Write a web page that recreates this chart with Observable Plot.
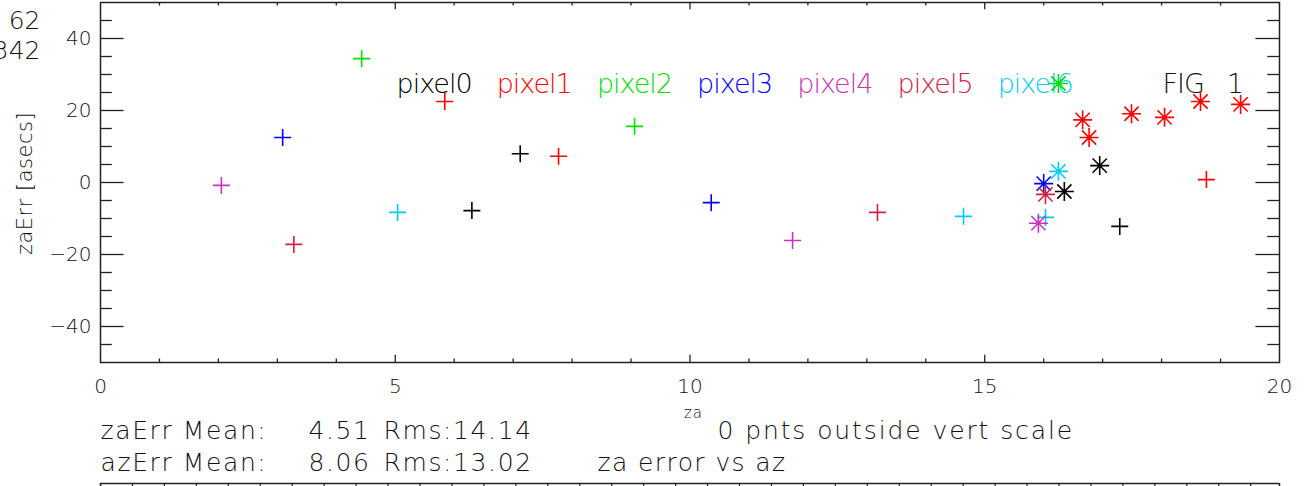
<!DOCTYPE html>
<html><head><meta charset="utf-8">
<script src="https://cdn.jsdelivr.net/npm/d3@7"></script>
<script src="https://cdn.jsdelivr.net/npm/@observablehq/plot@0.6"></script>
<style>
html,body{margin:0;padding:0;background:#fff;}
#chart svg{display:block;}
#chart svg text{white-space:pre;}
</style></head><body><div id="chart"></div>
<script>
// ---------------- data ----------------
const pixelNames  = ["pixel0","pixel1","pixel2","pixel3","pixel4","pixel5","pixel6"];
const pixelColors = ["#000000","#ff0000","#00dd00","#0000ff","#cc33bb","#cc2244","#00ccee"];

// "+" symbols: za, zaErr, pixel index
const plusZa  = [2.05, 3.09, 3.28, 4.43, 5.84, 5.04, 6.30, 7.12, 7.77, 9.06, 10.36, 11.74, 13.18, 14.64, 16.03, 17.29, 18.76];
const plusErr = [-0.8, 12.5, -17.2, 34.4, 22.5, -8.3, -7.8, 8.0, 7.3, 15.6, -5.6, -16.1, -8.3, -9.4, -9.7, -12.2, 0.8];
const plusPix = [4, 3, 5, 2, 1, 6, 0, 0, 1, 2, 3, 4, 5, 6, 6, 0, 1];

// "*" symbols
const starZa  = [16.25, 16.66, 16.77, 17.49, 18.05, 18.66, 19.34, 16.95, 16.25, 16.00, 16.03, 16.35, 15.91];
const starErr = [27.5, 17.4, 12.5, 19.1, 18.1, 22.5, 21.7, 4.7, 3.1, -0.3, -3.3, -2.5, -11.3];
const starPix = [2, 1, 1, 1, 1, 1, 1, 0, 6, 3, 5, 0, 4];

const xTickLabels = [0, 5, 10, 15, 20];
const yTickLabels = [-40, -20, 0, 20, 40];
const statsLabels = ["zaErr Mean:", "azErr Mean:"];
const statsMeans  = ["4.51", "8.06"];
const statsRms    = ["Rms:14.14", "Rms:13.02"];
const cornerLabels = ["62", "342"];
const figLabel = "FIG   1";
const xLabel = "za";
const yLabel = "zaErr [asecs]";
const outsideNote = "0 pnts outside vert scale";
const subTitle = "za error vs az";
const azTicks = d3.range(0, 361, 10);

// ---------------- layout ----------------
const W = 1307, H = 486, ML = 100, MR = 28, MT = 2, MB = 124;
const xAt = px => (px - ML) / (W - ML - MR) * 20;
const yAt = py => 50 - (py - MT) / (H - MT - MB) * 100;
const pxX = 20 / (W - ML - MR), pxY = 100 / (H - MT - MB);

const plusData = plusZa.map((z, i) => ({za: z, err: plusErr[i], c: pixelColors[plusPix[i]]}));
const starData = starZa.map((z, i) => ({za: z, err: starErr[i], c: pixelColors[starPix[i]]}));

const plusSym = {draw(ctx, size) {
  const r = Math.sqrt(size / Math.PI);
  ctx.moveTo(-r, 0); ctx.lineTo(r, 0); ctx.moveTo(0, -r); ctx.lineTo(0, r);
}};
const starSym = {draw(ctx, size) {
  const r = Math.sqrt(size / Math.PI), d = r * 0.75;
  ctx.moveTo(-r, 0); ctx.lineTo(r, 0); ctx.moveTo(0, -r); ctx.lineTo(0, r);
  ctx.moveTo(-d, -d); ctx.lineTo(d, d); ctx.moveTo(-d, d); ctx.lineTo(d, -d);
}};

const majorY = [-40, -20, 0, 20, 40];
const minorY = d3.range(-45, 50, 5).filter(v => !majorY.includes(v));
const majorX = [5, 10, 15];
const minorX = d3.range(1, 20).filter(v => !majorX.includes(v));
const yMajLen = 23.6 * pxX, yMinLen = 11.8 * pxX;
const xMajLen = 7.2 * pxY, xMinLen = 3.6 * pxY;
const tickStyle = {stroke: "#222", strokeWidth: 1.3};

const azToX = az => az * (31.95 / 10) * pxX;
const lowerY = yAt(483);

const textCol = "#111";
const row1 = 438, row2 = 470;

const chart = Plot.plot({
  width: W, height: H,
  marginLeft: ML, marginRight: MR, marginTop: MT, marginBottom: MB,
  x: {domain: [0, 20]},
  y: {domain: [-50, 50]},
  color: {type: "identity"},
  style: {fontFamily: "'DejaVu Sans', sans-serif", background: "#fff", color: textCol, overflow: "visible"},
  marks: [
    Plot.axisX({ticks: xTickLabels, tickSize: 0, tickPadding: 16, fontSize: 20, label: null, tickFormat: d => String(d)}),
    Plot.axisY({ticks: yTickLabels, tickSize: 0, tickPadding: 9, fontSize: 20, label: null}),
    // left / right y ticks
    Plot.ruleY(majorY, {y: d => d, x1: 0, x2: yMajLen, ...tickStyle}),
    Plot.ruleY(minorY, {y: d => d, x1: 0, x2: yMinLen, ...tickStyle}),
    Plot.ruleY(majorY, {y: d => d, x1: 20 - yMajLen, x2: 20, ...tickStyle}),
    Plot.ruleY(minorY, {y: d => d, x1: 20 - yMinLen, x2: 20, ...tickStyle}),
    // bottom / top x ticks
    Plot.ruleX(majorX, {x: d => d, y1: -50, y2: -50 + xMajLen, ...tickStyle}),
    Plot.ruleX(minorX, {x: d => d, y1: -50, y2: -50 + xMinLen, ...tickStyle}),
    Plot.ruleX(majorX, {x: d => d, y1: 50 - xMajLen, y2: 50, ...tickStyle}),
    Plot.ruleX(minorX, {x: d => d, y1: 50 - xMinLen, y2: 50, ...tickStyle}),
    Plot.frame({stroke: "#222", strokeWidth: 1.5}),
    // top of the next panel (cut off)
    Plot.ruleY([lowerY], {x1: 0, x2: 20, stroke: "#222", strokeWidth: 1.5, clip: false}),
    Plot.ruleX(azTicks, {x: azToX, y1: lowerY, y2: lowerY - 8 * pxY, stroke: "#222", strokeWidth: 1.2}),
    Plot.ruleX([0, 20], {y1: lowerY, y2: lowerY - 8 * pxY, stroke: "#222", strokeWidth: 1.5}),
    // legend text
    Plot.text(pixelNames, {x: (d, i) => xAt(396 + 100.2 * i), y: yAt(92), text: d => d,
      fill: (d, i) => pixelColors[i], textAnchor: "start", lineAnchor: "bottom", fontSize: 27}),
    Plot.text([figLabel], {x: xAt(1162), y: yAt(92), text: d => d, fill: textCol,
      textAnchor: "start", lineAnchor: "bottom", fontSize: 27}),
    // points
    Plot.dot(plusData, {x: "za", y: "err", symbol: plusSym, r: 8.5, stroke: "c", fill: "none", strokeWidth: 1.6}),
    Plot.dot(starData, {x: "za", y: "err", symbol: starSym, r: 9.5, stroke: "c", fill: "none", strokeWidth: 1.6}),
    // y label
    Plot.text([yLabel], {x: xAt(25), y: yAt(183), text: d => d, rotate: -90, fill: textCol,
      textAnchor: "middle", lineAnchor: "middle", fontSize: 21}),
    // corner labels
    Plot.text(cornerLabels, {x: xAt(40), y: (d, i) => yAt(28 + 30 * i), text: d => d, fill: textCol,
      textAnchor: "end", lineAnchor: "bottom", fontSize: 25}),
    // x label
    Plot.text([xLabel], {x: xAt(693), y: yAt(417), text: d => d, fill: textCol,
      textAnchor: "middle", lineAnchor: "bottom", fontSize: 15}),
    Plot.text([outsideNote], {x: xAt(717), y: yAt(row1), text: d => d, fill: textCol,
      textAnchor: "start", lineAnchor: "bottom", fontSize: 25}),
    Plot.text([subTitle], {x: xAt(597), y: yAt(row2), text: d => d, fill: textCol,
      textAnchor: "start", lineAnchor: "bottom", fontSize: 25}),
    // stats
    Plot.text(statsLabels, {x: xAt(100), y: (d, i) => yAt(i ? row2 : row1), text: d => d, fill: textCol,
      textAnchor: "start", lineAnchor: "bottom", fontSize: 25}),
    Plot.text(statsMeans, {x: xAt(308), y: (d, i) => yAt(i ? row2 : row1), text: d => d, fill: textCol,
      textAnchor: "start", lineAnchor: "bottom", fontSize: 25}),
    Plot.text(statsRms, {x: xAt(383), y: (d, i) => yAt(i ? row2 : row1), text: d => d, fill: textCol,
      textAnchor: "start", lineAnchor: "bottom", fontSize: 25})
  ]
});

// letter spacing tweaks to imitate the wide vector font
const spacing = new Map();
pixelNames.forEach(n => spacing.set(n, "-1px"));
spacing.set(figLabel, "-1px");
[...statsLabels, ...statsMeans, ...statsRms].forEach(n => spacing.set(n, "1.6px"));
spacing.set(subTitle, "1.4px");
spacing.set(outsideNote, "1.9px");
spacing.set(yLabel, "0.5px");
spacing.set(xLabel, "1px");
d3.select(chart).selectAll("text").each(function() {
  const s = spacing.get(this.textContent);
  if (s) this.setAttribute("letter-spacing", s);
});
d3.select(chart).selectAll("text").attr("font-weight", 300);

document.getElementById("chart").appendChild(chart);
</script></body></html>
